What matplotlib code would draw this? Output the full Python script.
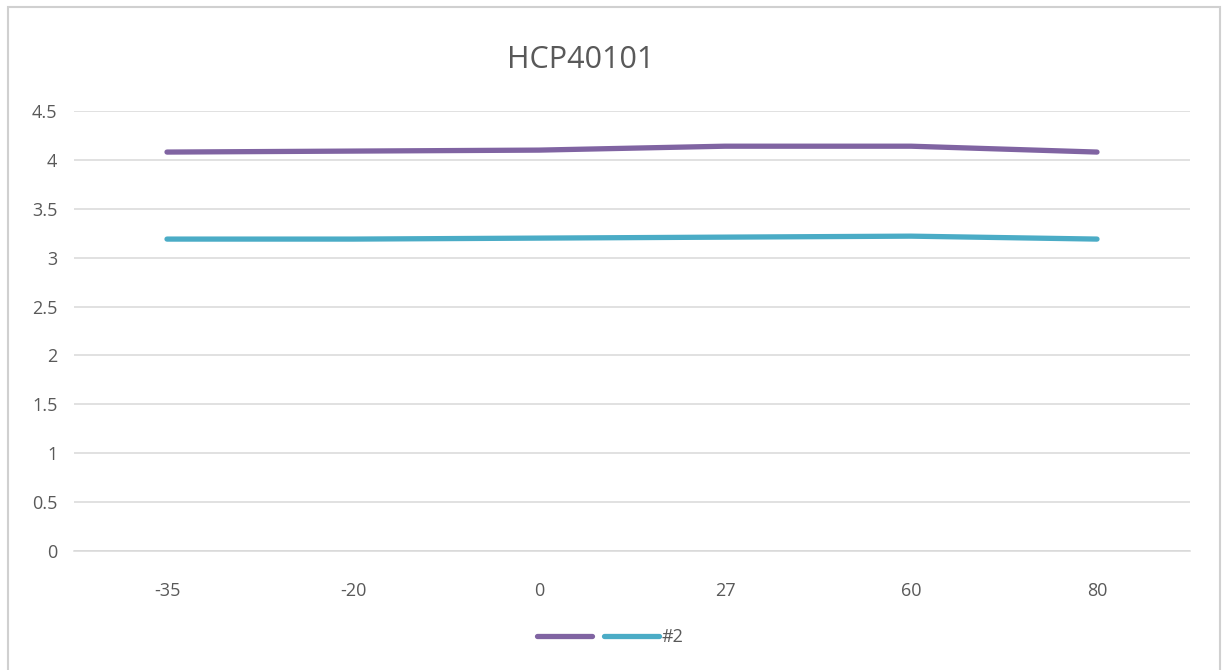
import matplotlib.pyplot as plt
from matplotlib.patches import Rectangle

# --- données ---
categories = ['-35', '-20', '0', '27', '60', '80']
serie_1 = [4.08, 4.09, 4.10, 4.14, 4.14, 4.08]
serie_2 = [3.19, 3.19, 3.20, 3.21, 3.22, 3.19]
yticks = [0, 0.5, 1, 1.5, 2, 2.5, 3, 3.5, 4, 4.5]
ytick_labels = ['0', '0.5', '1', '1.5', '2', '2.5', '3', '3.5', '4', '4.5']

W, H = 1222, 670
plt.rcParams['font.family'] = ['Open Sans', 'DejaVu Sans']

fig = plt.figure(figsize=(W / 100, H / 100), dpi=100)
ax = fig.add_axes([74 / W, 1 - 551 / H, (1190 - 74) / W, (551 - 111) / H])

x = range(len(categories))
l1, = ax.plot(x, serie_1, color='#8064A2', linewidth=3.8, solid_capstyle='round')
l2, = ax.plot(x, serie_2, color='#4BACC6', linewidth=3.8, solid_capstyle='round')

ax.set_xlim(-0.5, len(categories) - 0.5)
ax.set_ylim(0, 4.5)
ax.set_xticks(list(x))
ax.set_xticklabels(categories)
ax.set_yticks(yticks)
ax.set_yticklabels(ytick_labels)
ax.tick_params(length=0, labelsize=13, labelcolor='#595959')
ax.tick_params(axis='x', pad=22)
ax.tick_params(axis='y', pad=12)
ax.yaxis.grid(True, color='#D9D9D9', linewidth=1.1)
ax.set_axisbelow(True)
for cote in ['top', 'right', 'left']:
    ax.spines[cote].set_visible(False)
ax.spines['bottom'].set_color('#D9D9D9')
ax.spines['bottom'].set_linewidth(1.1)

fig.text(581 / W, 1 - 60 / H, 'HCP40101', ha='center', va='center',
         fontsize=22, color='#595959')

leg = fig.legend(handles=[l1, l2], labels=['', '#2'], loc='center',
                 bbox_to_anchor=(610 / W, 1 - 637 / H), ncol=2, frameon=False,
                 fontsize=13, handlelength=3.05, columnspacing=0.5, handletextpad=0.15)
for t in leg.get_texts():
    t.set_color('#595959')

# cadre du graphique
fig.patches.append(Rectangle((8 / W, -0.05), (1220 - 8) / W, 1.05 - 7 / H,
                             transform=fig.transFigure, fill=False,
                             edgecolor='#D0D0D0', linewidth=1.5))

fig.savefig('out.png', dpi=100)
